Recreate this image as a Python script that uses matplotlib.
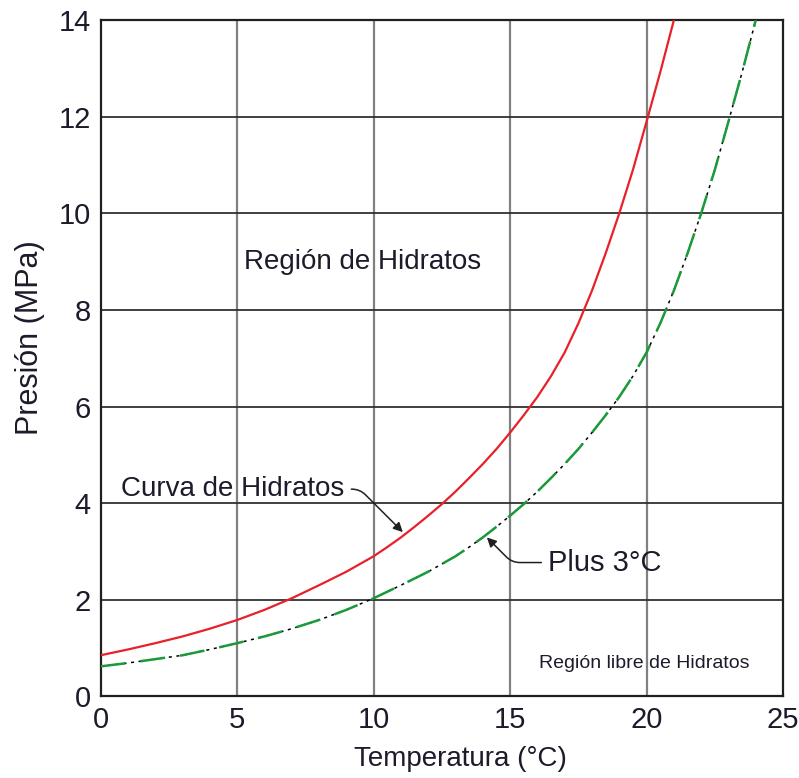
import numpy as np
import matplotlib
matplotlib.use('Agg')
import matplotlib.pyplot as plt

plt.rcParams['font.family'] = ['Liberation Sans', 'DejaVu Sans']

# curva de hidratos
temp_hid = [0, 1, 2, 3, 4, 5, 6, 7, 8, 8.5, 9, 9.5, 10, 10.5, 11, 11.5, 12, 12.5, 13, 13.5,
            14, 14.5, 15, 15.5, 16, 16.5, 17, 17.5, 18, 18.5, 19, 19.5, 20, 20.5, 21]
pres_hid = [0.85, 0.97, 1.1, 1.24, 1.4, 1.58, 1.79, 2.03, 2.3, 2.44, 2.58, 2.74, 2.9, 3.09, 3.29, 3.51,
            3.74, 3.98, 4.24, 4.52, 4.81, 5.12, 5.46, 5.82, 6.2, 6.63, 7.12, 7.72, 8.4, 9.17,
            10.0, 10.9, 11.9, 12.92, 14.0]

# curva +3 C
temp_plus = [0, 1, 2, 3, 4, 5, 6, 7, 8, 9, 10, 11, 11.5, 12, 12.5, 13, 13.5, 14, 14.5, 15,
             15.5, 16, 16.5, 17, 17.5, 18, 18.5, 19, 19.5, 20, 20.5, 21, 21.5, 22, 22.5, 23, 23.5, 24]
pres_plus = [0.62, 0.69, 0.77, 0.85, 0.97, 1.1, 1.24, 1.4, 1.58, 1.79, 2.03, 2.3, 2.44, 2.58, 2.74, 2.9,
             3.09, 3.29, 3.51, 3.74, 3.98, 4.24, 4.52, 4.81, 5.12, 5.46, 5.82, 6.2, 6.63, 7.12,
             7.72, 8.4, 9.17, 10.0, 10.9, 11.9, 12.92, 14.0]

xticks = [0, 5, 10, 15, 20, 25]
yticks = [0, 2, 4, 6, 8, 10, 12, 14]

txt = '#1b1b2b'

fig = plt.figure(figsize=(7.99, 7.78), dpi=100)
ax = fig.add_axes([0.126, 0.105, 0.854, 0.869])

for xv in xticks[1:-1]:
    ax.axvline(xv, color='#808080', lw=1.6, zorder=1)
for yv in yticks[1:-1]:
    ax.axhline(yv, color='#303030', lw=1.3, zorder=1)

ax.plot(temp_hid, pres_hid, color='#e8202a', lw=1.6, zorder=3)
ax.plot(temp_plus, pres_plus, color='black', lw=1.1, dashes=(2, 3), zorder=3)
ax.plot(temp_plus, pres_plus, color='#1a9a3a', lw=1.8, dashes=(10, 6), zorder=4)

ax.set_xlim(0, 25)
ax.set_ylim(0, 14)
ax.set_xticks(xticks)
ax.set_yticks(yticks)
ax.tick_params(length=0, labelsize=21, labelcolor=txt, pad=7)
for s in ax.spines.values():
    s.set_linewidth(1.6)
    s.set_color('#202020')

ax.set_xlabel('Temperatura (°C)', fontsize=20, color=txt)
ax.xaxis.set_label_coords(0.527, -0.073)
ax.set_ylabel('Presión (MPa)', fontsize=22, color=txt)
ax.yaxis.set_label_coords(-0.082, 0.53)

ax.text(9.6, 9.0, 'Región de Hidratos', fontsize=20, color=txt, ha='center', va='center')
ax.text(19.9, 0.68, 'Región libre de Hidratos', fontsize=14, color=txt, ha='center', va='center')

ax.annotate('Curva de Hidratos', xy=(11.07, 3.4), xytext=(0.75, 4.29),
            fontsize=20, color=txt, va='center', ha='left',
            arrowprops=dict(arrowstyle='-|>', color='#202020', lw=1.1,
                            shrinkA=3, shrinkB=0, mutation_scale=14,
                            connectionstyle='angle,angleA=0,angleB=-45,rad=8'))
ax.annotate('Plus 3°C', xy=(14.15, 3.29), xytext=(16.4, 2.77),
            fontsize=21, color=txt, va='center', ha='left',
            arrowprops=dict(arrowstyle='-|>', color='#202020', lw=1.1,
                            shrinkA=3, shrinkB=0, mutation_scale=14,
                            connectionstyle='angle,angleA=0,angleB=-45,rad=8'))

fig.savefig('out.png', dpi=100)
